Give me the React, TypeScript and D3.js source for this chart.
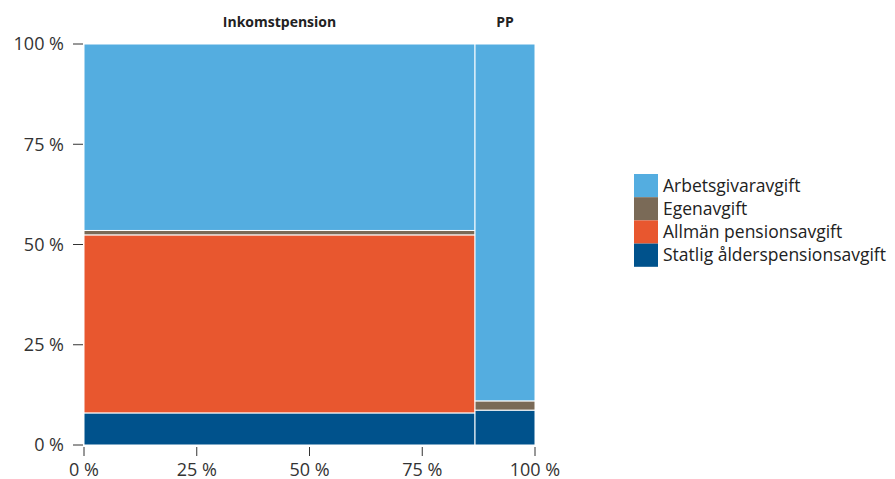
import React from "react";
import * as d3 from "d3";

const columns = ["Inkomstpension", "PP"];
const columnShares = [86.7, 13.3];
const seriesNames = ["Statlig ålderspensionsavgift", "Allmän pensionsavgift", "Egenavgift", "Arbetsgivaravgift"];
const statlig = [8.0, 8.7];
const allman = [44.4, 0];
const egen = [1.1, 2.3];
const arbetsgivar = [46.5, 89.0];
const colors = ["#00528C", "#E8572F", "#7A6A57", "#54ADE0"];
const tickValues = [0, 25, 50, 75, 100];
const legendOrder = ["Arbetsgivaravgift", "Egenavgift", "Allmän pensionsavgift", "Statlig ålderspensionsavgift"];

const W = 895, H = 479;
const M = { left: 84, right: 360, top: 44, bottom: 445 };
const FONT = "'Open Sans', sans-serif";

export default function App() {
  const x = d3.scaleLinear().domain([0, 100]).range([M.left, W - M.right]);
  const y = d3.scaleLinear().domain([0, 100]).range([M.bottom, M.top]);
  const values = [statlig, allman, egen, arbetsgivar];
  const colStart = columnShares.map((_, i) => d3.sum(columnShares.slice(0, i)));

  const rects: any[] = [];
  columns.forEach((c, ci) => {
    let acc = 0;
    const tot = d3.sum(values.map(v => v[ci]));
    values.forEach((v, si) => {
      const val = (v[ci] / tot) * 100;
      if (val > 0) {
        rects.push(
          <rect key={c + si}
            x={x(colStart[ci])} width={x(colStart[ci] + columnShares[ci]) - x(colStart[ci])}
            y={y(acc + val)} height={y(acc) - y(acc + val)}
            fill={colors[si]} stroke="#fff" strokeWidth={1} />
        );
      }
      acc += val;
    });
  });

  return (
    <svg width={W} height={H} style={{ position: "absolute", left: 0, top: 0 }} fontFamily={FONT}>
      <rect width={W} height={H} fill="#fff" />
      {rects}
      {columns.map((c, ci) => (
        <text key={c} x={(x(colStart[ci]) + x(colStart[ci] + columnShares[ci])) / 2} y={27}
          textAnchor="middle" fontSize={14} fontWeight="bold" fill="#222">{c}</text>
      ))}
      {tickValues.map(t => (
        <g key={"y" + t}>
          <line x1={x(0) - 11} x2={x(0) - 1} y1={y(t)} y2={y(t)} stroke="#333" strokeWidth={1} />
          <text x={x(0) - 20} y={y(t)} dy="0.35em" textAnchor="end" fontSize={18} fill="#333">{t} %</text>
        </g>
      ))}
      {tickValues.map(t => (
        <g key={"x" + t}>
          <line x1={x(t)} x2={x(t)} y1={y(0) + 2} y2={y(0) + 11} stroke="#333" strokeWidth={1} />
          <text x={x(t)} y={y(0) + 31} textAnchor="middle" fontSize={18} fill="#333">{t} %</text>
        </g>
      ))}
      {legendOrder.map((n, i) => (
        <g key={n} transform={`translate(634, ${174 + i * 23.2})`}>
          <rect width={24} height={23.2} fill={colors[seriesNames.indexOf(n)]} />
          <text x={29} y={11.6} dy="0.35em" fontSize={17.5} fill="#222">{n}</text>
        </g>
      ))}
    </svg>
  );
}
